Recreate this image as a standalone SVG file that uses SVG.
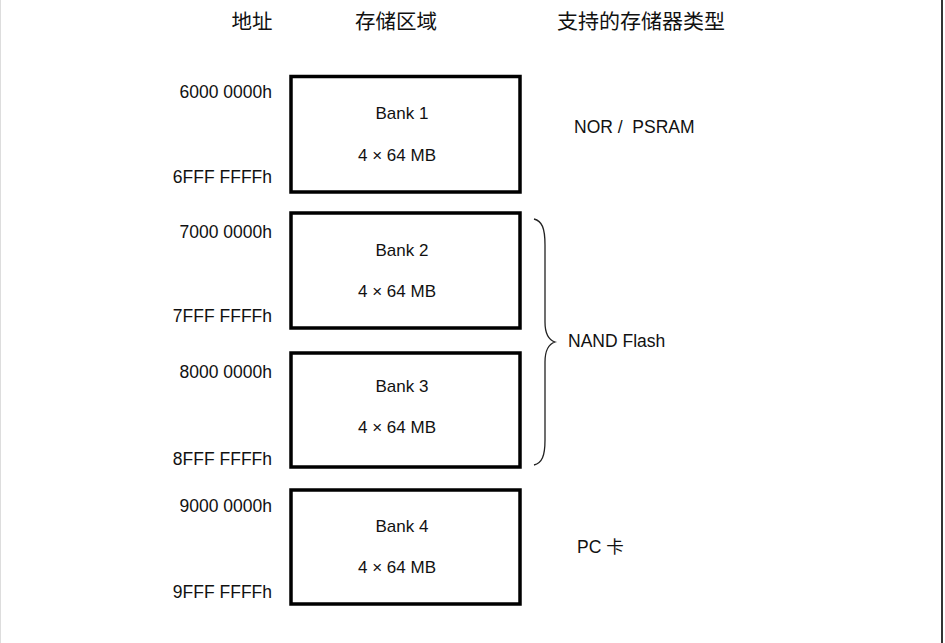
<svg xmlns="http://www.w3.org/2000/svg" width="945" height="643" viewBox="0 0 945 643">
<style>
.hdr{font-family:"Noto Sans CJK SC","Liberation Sans",sans-serif;font-size:20.5px;fill:#111;text-anchor:middle}
.addr{font-family:"Liberation Sans","Noto Sans CJK SC",sans-serif;font-size:17.5px;fill:#111;text-anchor:end}
.lbl{font-family:"Liberation Sans","Noto Sans CJK SC",sans-serif;font-size:17px;fill:#111;text-anchor:middle}
.typ{font-family:"Liberation Sans","Noto Sans CJK SC",sans-serif;font-size:17.5px;fill:#111}
.box{fill:#fff;stroke:#000;stroke-width:3.5}
</style>
<rect width="945" height="643" fill="#fff"/>
<line x1="0.5" y1="0" x2="0.5" y2="643" stroke="#ddd" stroke-width="1"/>
<line x1="942" y1="0" x2="942" y2="643" stroke="#333" stroke-width="2"/>
<g id="headers">
<text class="hdr" x="252" y="29">地址</text>
<text class="hdr" x="396" y="29">存储区域</text>
<text class="hdr" x="641" y="29" textLength="168" lengthAdjust="spacingAndGlyphs">支持的存储器类型</text>
</g>
<g id="bank1">
<rect class="box" x="291" y="76.5" width="229" height="115.5"/>
<text class="lbl" x="402" y="119">Bank 1</text>
<text class="lbl" x="397" y="161">4 × 64 MB</text>
<text class="addr" x="272" y="98">6000 0000h</text>
<text class="addr" x="272" y="183">6FFF FFFFh</text>
</g>
<g id="bank2">
<rect class="box" x="291" y="213" width="229" height="115"/>
<text class="lbl" x="402" y="256">Bank 2</text>
<text class="lbl" x="397" y="297">4 × 64 MB</text>
<text class="addr" x="272" y="238">7000 0000h</text>
<text class="addr" x="272" y="322">7FFF FFFFh</text>
</g>
<g id="bank3">
<rect class="box" x="291" y="353" width="229" height="114"/>
<text class="lbl" x="402" y="392">Bank 3</text>
<text class="lbl" x="397" y="433">4 × 64 MB</text>
<text class="addr" x="272" y="378">8000 0000h</text>
<text class="addr" x="272" y="465">8FFF FFFFh</text>
</g>
<g id="bank4">
<rect class="box" x="291" y="490" width="229" height="114"/>
<text class="lbl" x="402" y="532">Bank 4</text>
<text class="lbl" x="397" y="573">4 × 64 MB</text>
<text class="addr" x="272" y="512">9000 0000h</text>
<text class="addr" x="272" y="598">9FFF FFFFh</text>
</g>
<g id="types">
<text class="typ" x="574" y="133" xml:space="preserve">NOR /  PSRAM</text>
<text class="typ" x="568" y="347">NAND Flash</text>
<text class="typ" x="577" y="553">PC 卡</text>
</g>
<g id="connectors">
<path d="M534,219 C542,221 545,228 545,245 L545,322 C545,334 549,340 555,342 C549,344 545,350 545,362 L545,440 C545,456 542,463 534,465" fill="none" stroke="#222" stroke-width="1.3"/>
</g>
</svg>
